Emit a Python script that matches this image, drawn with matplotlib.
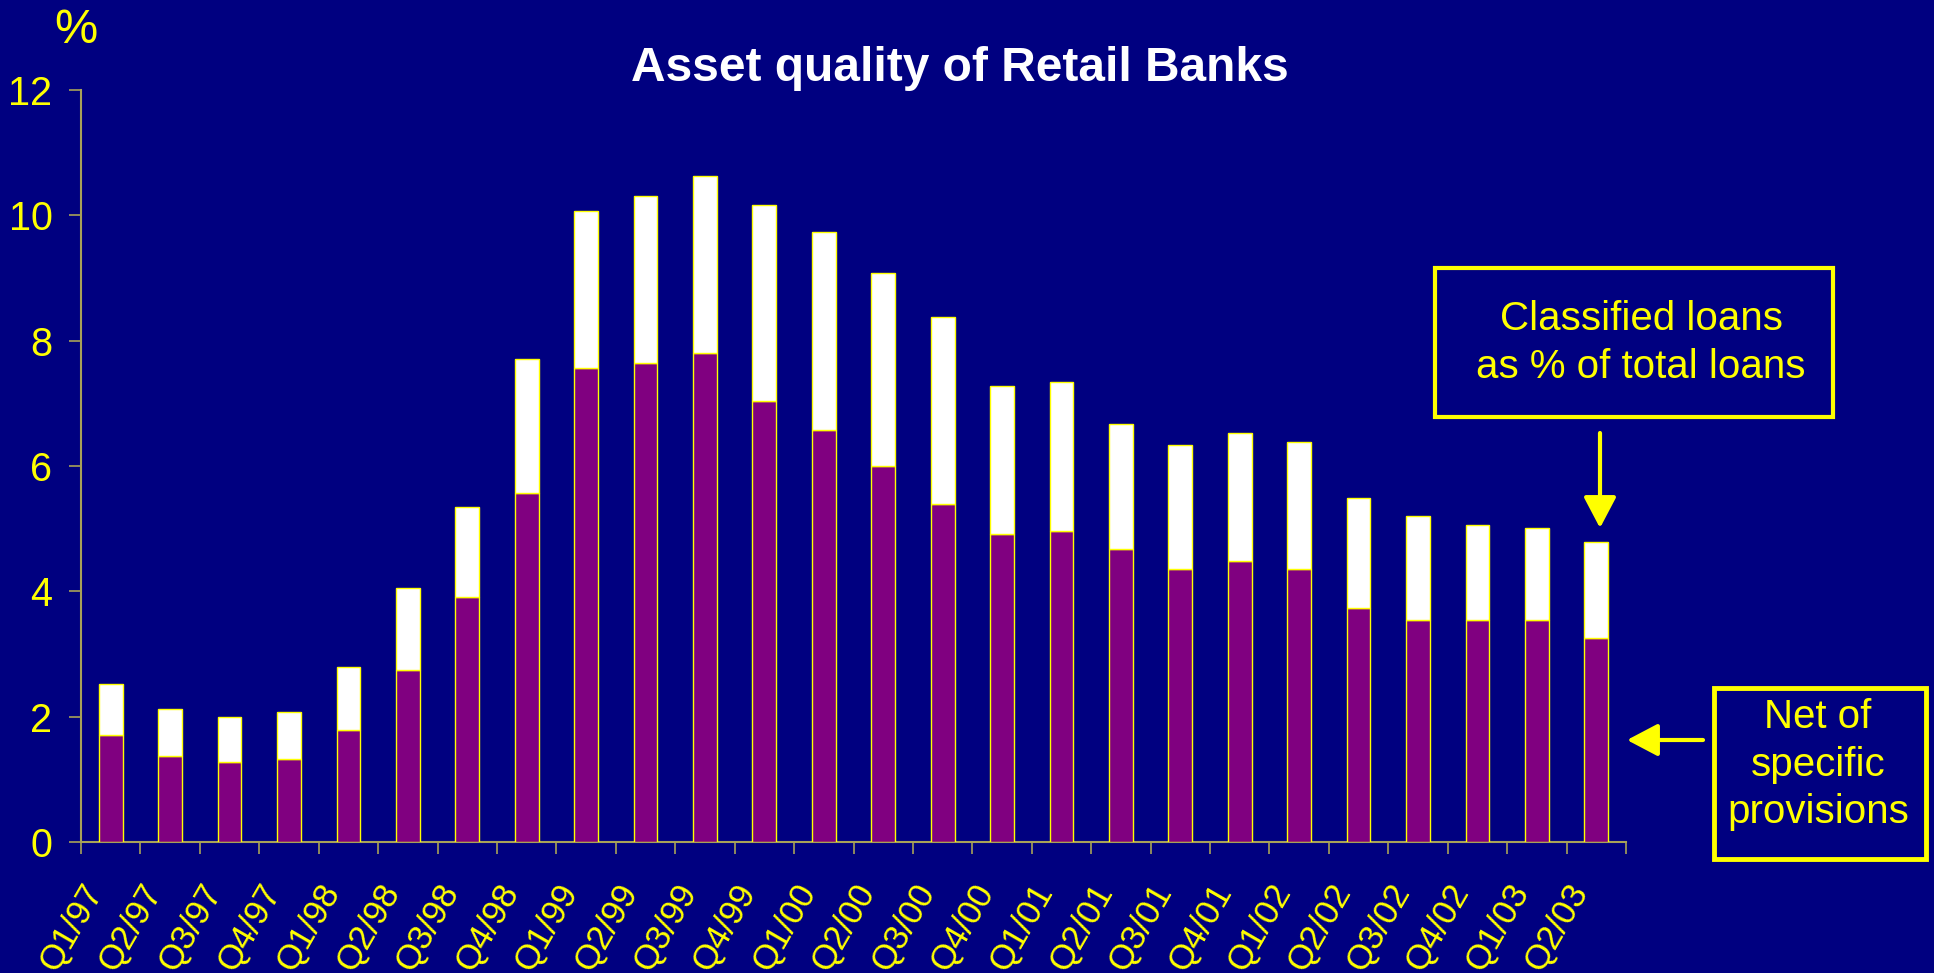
import matplotlib
matplotlib.use("Agg")
import matplotlib.pyplot as plt
from matplotlib.patches import Rectangle, FancyArrowPatch
from matplotlib.transforms import ScaledTranslation

plt.rcParams['font.family'] = ['Liberation Sans', 'DejaVu Sans']

categories = ['Q1/97', 'Q2/97', 'Q3/97', 'Q4/97', 'Q1/98', 'Q2/98', 'Q3/98', 'Q4/98',
              'Q1/99', 'Q2/99', 'Q3/99', 'Q4/99', 'Q1/00', 'Q2/00', 'Q3/00', 'Q4/00',
              'Q1/01', 'Q2/01', 'Q3/01', 'Q4/01', 'Q1/02', 'Q2/02', 'Q3/02', 'Q4/02',
              'Q1/03', 'Q2/03']
classified_total = [2.52, 2.13, 1.99, 2.08, 2.79, 4.05, 5.35, 7.71,
                    10.07, 10.31, 10.63, 10.17, 9.74, 9.08, 8.37, 7.28,
                    7.34, 6.67, 6.33, 6.53, 6.39, 5.49, 5.20, 5.06,
                    5.01, 4.78]
net_of_provisions = [1.70, 1.37, 1.27, 1.32, 1.79, 2.74, 3.91, 5.57,
                     7.56, 7.65, 7.80, 7.04, 6.57, 6.00, 5.39, 4.91,
                     4.96, 4.68, 4.35, 4.49, 4.35, 3.73, 3.54, 3.54,
                     3.54, 3.26]
yticks = [0, 2, 4, 6, 8, 10, 12]

W, H = 1934, 973
BG = '#000080'
PURPLE = '#800080'
YEL = '#ffff00'
AXC = '#a8a258'

fig = plt.figure(figsize=(W / 100, H / 100), dpi=100, facecolor=BG)

def fx(x):
    return x / W

def fy(y):
    return 1 - y / H

ax = fig.add_axes([fx(81), fy(842), (1626 - 81) / W, (842 - 90) / H])
ax.set_facecolor(BG)

x = list(range(len(categories)))
upper = [t - n for t, n in zip(classified_total, net_of_provisions)]
ax.bar(x, net_of_provisions, width=0.4, color=PURPLE, edgecolor=YEL, linewidth=1.0, zorder=3)
ax.bar(x, upper, bottom=net_of_provisions, width=0.4, color='white', edgecolor=YEL,
       linewidth=1.0, zorder=3)

ax.set_xlim(-0.5, len(categories) - 0.5)
ax.set_ylim(0, 12)
for s in ['top', 'right']:
    ax.spines[s].set_visible(False)
for s in ['left', 'bottom']:
    ax.spines[s].set_color(AXC)
    ax.spines[s].set_linewidth(1.5)

ax.set_yticks(yticks)
ax.set_yticklabels([str(v) for v in yticks])
ax.tick_params(axis='y', colors=AXC, labelcolor=YEL, labelsize=28.5, length=8.6,
               width=1.2, pad=12, direction='out')

ax.set_xticks(x)
ax.set_xticklabels([])
ax.tick_params(axis='x', which='major', length=0)
ax.set_xticks([i - 0.5 for i in range(len(categories) + 1)], minor=True)
ax.tick_params(axis='x', which='minor', colors=AXC, length=8.6, width=1.2, direction='out')

off = ScaledTranslation(-16 / 100, -44 / 100, fig.dpi_scale_trans)
for i, lab in enumerate(categories):
    ax.text(i, 0, lab, transform=ax.get_xaxis_transform() + off, rotation=60,
            rotation_mode='anchor', ha='right', va='center', fontsize=25, color=YEL)

# Title and unit
fig.text(fx(960), fy(81), 'Asset quality of Retail Banks', ha='center', va='baseline',
         fontsize=34.5, fontweight='bold', color='white')
fig.text(fx(76), fy(43), '%', ha='center', va='baseline', fontsize=35, color=YEL)

# Annotation box 1
fig.add_artist(Rectangle((fx(1435), fy(417)), (1833 - 1435) / W, (417 - 268) / H,
                         transform=fig.transFigure, fill=False, edgecolor=YEL, linewidth=3))
fig.text(fx(1641), fy(330), 'Classified loans', ha='center', va='baseline', fontsize=29, color=YEL)
fig.text(fx(1641), fy(378), 'as % of total loans', ha='center', va='baseline', fontsize=29, color=YEL)
fig.add_artist(FancyArrowPatch((fx(1600), fy(433)), (fx(1600), fy(528)),
                               transform=fig.transFigure,
                               arrowstyle='-|>,head_length=0.95,head_width=0.5',
                               mutation_scale=20, color=YEL, linewidth=3,
                               shrinkA=0, shrinkB=0))

# Annotation box 2
fig.add_artist(Rectangle((fx(1714), fy(859)), (1926 - 1714) / W, (859 - 688) / H,
                         transform=fig.transFigure, fill=False, edgecolor=YEL, linewidth=3.5))
fig.text(fx(1818), fy(728), 'Net of', ha='center', va='baseline', fontsize=29, color=YEL)
fig.text(fx(1818), fy(776), 'specific', ha='center', va='baseline', fontsize=29, color=YEL)
fig.text(fx(1818), fy(823), 'provisions', ha='center', va='baseline', fontsize=29, color=YEL)
fig.add_artist(FancyArrowPatch((fx(1703), fy(740)), (fx(1627), fy(740)),
                               transform=fig.transFigure,
                               arrowstyle='-|>,head_length=0.95,head_width=0.5',
                               mutation_scale=20, color=YEL, linewidth=3,
                               shrinkA=0, shrinkB=0))

fig.savefig('out.png', dpi=100, facecolor=BG)
